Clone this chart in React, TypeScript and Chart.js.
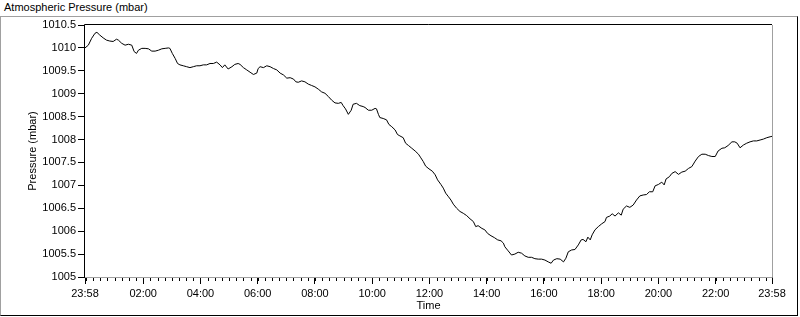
import React, { useEffect, useRef } from "react";
import { Chart, registerables } from "chart.js";

Chart.register(...registerables);

// Minutes elapsed since 23:58 (start of record)
const timeMin = [0,7,14,21,25,31,38,45,52,59,66,70,77,84,91,98,103,108,112,119,126,133,140,147,154,161,168,175,178,183,189,194,199,206,213,220,227,234,241,248,255,262,269,276,283,288,293,
300,308,314,321,325,332,339,346,353,360,363,367,374,381,388,395,402,409,416,423,430,437,442,447,454,461,468,475,482,489,496,503,510,517,524,531,537,541,546,552,558,562,569,576,583,
587,594,601,608,611,615,618,625,632,637,643,650,655,660,667,672,678,685,692,699,704,709,714,721,728,734,739,746,751,756,762,767,772,779,786,793,800,807,814,819,824,832,838,844,851,858,865,872,877,
880,887,894,901,908,915,922,929,936,943,950,957,964,971,977,982,989,996,1003,1008,1013,1020,1027,1034,1040,1044,1050,1054,1059,1063,1069,1076,1083,1090,1093,1100,1105,1111,1118,1124,1128,1135,1142,1149,1156,1163,
1170,1177,1183,1190,1195,1202,1209,1214,1218,1225,1230,1237,1244,1251,1258,1265,1272,1279,1286,1293,1300,1307,1314,1321,1327,1335,1341,1348,1356,1362,1367,1373,1380,1387,1394,1401,1408,1415,1422,1429,1436,1440];

// Atmospheric pressure (mbar)
const pressure = [1010.00,1010.06,1010.21,1010.32,1010.34,1010.28,1010.22,1010.17,1010.15,1010.14,1010.19,1010.17,1010.10,1010.06,1010.08,1010.06,1009.92,1009.88,1009.95,1009.99,1009.99,1009.98,1009.93,1009.93,1009.95,1009.98,1009.99,1010.00,1009.99,1009.88,1009.77,1009.66,1009.63,1009.61,1009.59,1009.57,1009.59,1009.61,1009.61,1009.63,1009.63,1009.66,1009.66,1009.69,1009.63,1009.57,1009.63,
1009.54,1009.59,1009.64,1009.66,1009.64,1009.57,1009.52,1009.47,1009.42,1009.45,1009.55,1009.59,1009.57,1009.61,1009.59,1009.55,1009.52,1009.45,1009.41,1009.34,1009.35,1009.32,1009.26,1009.25,1009.28,1009.26,1009.21,1009.18,1009.15,1009.10,1009.04,1009.01,1008.94,1008.86,1008.80,1008.79,1008.81,1008.74,1008.67,1008.55,1008.64,1008.77,1008.79,1008.74,1008.72,
1008.70,1008.64,1008.64,1008.68,1008.67,1008.55,1008.48,1008.46,1008.43,1008.33,1008.28,1008.21,1008.11,1008.08,1008.04,1007.92,1007.87,1007.81,1007.75,1007.68,1007.60,1007.52,1007.42,1007.36,1007.31,1007.23,1007.12,1007.02,1006.94,1006.83,1006.75,1006.68,1006.59,1006.50,1006.43,1006.39,1006.34,1006.27,1006.21,1006.10,1006.12,1006.06,1006.03,1005.95,1005.90,1005.86,1005.81,1005.79,1005.74,
1005.66,1005.57,1005.48,1005.50,1005.54,1005.52,1005.46,1005.43,1005.43,1005.40,1005.39,1005.39,1005.37,1005.33,1005.30,1005.37,1005.40,1005.39,1005.33,1005.41,1005.55,1005.59,1005.60,1005.70,1005.81,1005.82,1005.77,1005.87,1005.81,1005.92,1006.03,1006.10,1006.16,1006.21,1006.30,1006.33,1006.38,1006.33,1006.40,1006.35,1006.48,1006.55,1006.52,1006.57,1006.68,1006.77,
1006.79,1006.80,1006.86,1006.86,1006.99,1007.02,1007.07,1007.01,1007.14,1007.19,1007.26,1007.30,1007.24,1007.29,1007.31,1007.37,1007.41,1007.53,1007.63,1007.68,1007.68,1007.65,1007.63,1007.63,1007.75,1007.81,1007.82,1007.87,1007.95,1007.95,1007.92,1007.82,1007.88,1007.92,1007.95,1007.97,1007.97,1007.99,1008.01,1008.04,1008.06,1008.07];

const tickMinutes = [0,122,242,362,482,602,722,842,962,1082,1202,1322,1440];
const tickLabels = ["23:58","02:00","04:00","06:00","08:00","10:00","12:00","14:00","16:00","18:00","20:00","22:00","23:58"];
const minorStart = 2;
const minorStep = 15;

const yMin = 1005;
const yMax = 1010.5;
const yStep = 0.5;

const FONT = "'Liberation Sans', Arial, sans-serif";

const framePlugin = {
  id: "lvFrame",
  afterDraw(chart: any) {
    const { ctx, chartArea } = chart;
    const { left, right, top, bottom } = chartArea;
    const xs = chart.scales.x;
    ctx.save();
    ctx.lineWidth = 1;
    // minor ticks
    ctx.strokeStyle = "#000";
    ctx.beginPath();
    for (let t = minorStart; t < 1440; t += minorStep) {
      const px = Math.round(xs.getPixelForValue(t)) + 0.5;
      ctx.moveTo(px, bottom);
      ctx.lineTo(px, bottom + 4);
    }
    ctx.stroke();
    // plot frame
    ctx.strokeStyle = "#000";
    ctx.beginPath();
    ctx.moveTo(left - 0.5, bottom);
    ctx.lineTo(left - 0.5, top - 0.5);
    ctx.lineTo(right, top - 0.5);
    ctx.stroke();
    ctx.strokeStyle = "#a0a0a0";
    ctx.beginPath();
    ctx.moveTo(right + 0.5, top);
    ctx.lineTo(right + 0.5, bottom + 0.5);
    ctx.lineTo(left, bottom + 0.5);
    ctx.stroke();
    ctx.restore();
  },
};

export default function App() {
  const canvasRef = useRef<HTMLCanvasElement | null>(null);

  useEffect(() => {
    if (!canvasRef.current) return;
    const data = timeMin.map((t, i) => ({ x: t, y: pressure[i] }));
    const chart = new Chart(canvasRef.current, {
      type: "line",
      data: {
        datasets: [
          {
            label: "Pressure",
            data,
            borderColor: "#000",
            borderWidth: 1,
            pointRadius: 0,
            tension: 0,
            fill: false,
          },
        ],
      },
      options: {
        animation: false,
        responsive: false,
        devicePixelRatio: 1,
        layout: { padding: { top: 25, right: 28, left: 0, bottom: 0 } },
        plugins: {
          legend: { display: false },
          tooltip: { enabled: false },
          title: { display: false },
        },
        scales: {
          x: {
            type: "linear",
            min: 0,
            max: 1440,
            afterBuildTicks: (s: any) => {
              s.ticks = tickMinutes.map((v) => ({ value: v }));
            },
            afterFit: (s: any) => {
              s.height = 40;
            },
            border: { display: false },
            grid: {
              drawOnChartArea: false,
              drawTicks: true,
              tickLength: 7,
              color: "#000",
            },
            ticks: {
              autoSkip: false,
              maxRotation: 0,
              padding: 3,
              color: "#000",
              font: { family: FONT, size: 11 },
              callback: (v: any) => {
                const i = tickMinutes.indexOf(Number(v));
                return i >= 0 ? tickLabels[i] : "";
              },
            },
            title: {
              display: true,
              text: "Time",
              color: "#000",
              font: { family: FONT, size: 11 },
              padding: { top: 0, bottom: 4 },
            },
          },
          y: {
            type: "linear",
            min: yMin,
            max: yMax,
            afterFit: (s: any) => {
              s.width = 85;
            },
            border: { display: false },
            grid: {
              drawOnChartArea: false,
              drawTicks: true,
              tickLength: 7,
              color: "#000",
            },
            ticks: {
              stepSize: yStep,
              padding: 2,
              color: "#000",
              font: { family: FONT, size: 11 },
              callback: (v: any) => String(Math.round(Number(v) * 10) / 10),
            },
            title: {
              display: true,
              text: "Pressure (mbar)",
              color: "#000",
              font: { family: FONT, size: 11 },
              padding: { top: 26, bottom: 0 },
            },
          },
        },
      },
      plugins: [framePlugin],
    });
    return () => chart.destroy();
  }, []);

  return (
    <div
      style={{
        position: "absolute",
        left: 0,
        top: 0,
        width: 800,
        height: 317,
        background: "#fff",
        overflow: "hidden",
      }}
    >
      <div
        style={{
          position: "absolute",
          left: 4,
          top: 1,
          fontFamily: FONT,
          fontSize: 11,
          lineHeight: "13px",
          color: "#000",
          whiteSpace: "nowrap",
        }}
      >
        Atmospheric Pressure (mbar)
      </div>
      <div
        style={{
          position: "absolute",
          left: 0,
          top: 16,
          width: 796,
          height: 298,
          borderTop: "1px solid #a0a0a0",
          borderLeft: "1px solid #a0a0a0",
          borderRight: "1px solid #000",
          borderBottom: "1px solid #000",
        }}
      />
      <canvas
        ref={canvasRef}
        width={800}
        height={317}
        style={{ position: "absolute", left: 0, top: 0, width: 800, height: 317 }}
      />
    </div>
  );
}
